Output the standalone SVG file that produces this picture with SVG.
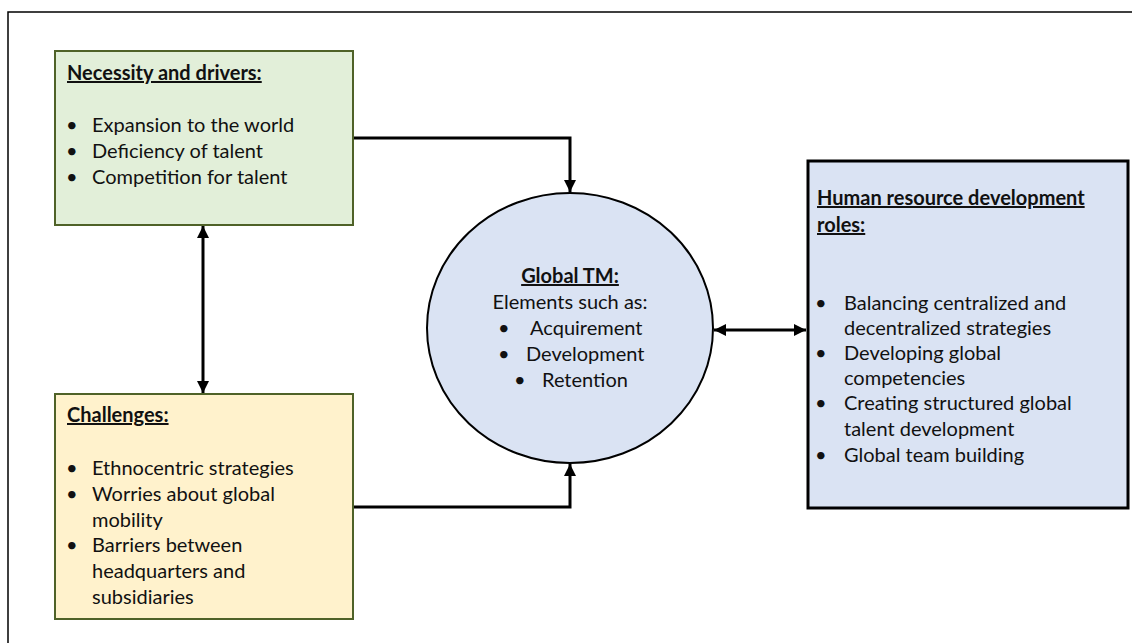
<svg xmlns="http://www.w3.org/2000/svg" width="1132" height="643" viewBox="0 0 1132 643">
  <defs>
    <style>
      text { font-family: Lato, "Open Sans", "Liberation Sans", sans-serif; font-size: 20px; fill: #111; }
      .title { font-weight: bold; text-decoration: underline; }
      .mid { text-anchor: middle; }
      .box-green { fill: #e2efd9; stroke: #4f6228; stroke-width: 2; }
      .box-yellow { fill: #fff2cc; stroke: #4f6228; stroke-width: 2; }
      .box-blue { fill: #dae3f3; stroke: #000; stroke-width: 3; }
      .hub { fill: #dae3f3; stroke: #000; stroke-width: 2; }
      .link { fill: none; stroke: #000; stroke-width: 3; }
    </style>
    <marker id="head" viewBox="0 0 10 10" refX="10" refY="5" markerWidth="4" markerHeight="4" orient="auto-start-reverse" markerUnits="strokeWidth">
      <path d="M0,0 L10,5 L0,10 Z" fill="#000"/>
    </marker>
  </defs>

  <rect width="1132" height="643" fill="#fff"/>
  <!-- page frame -->
  <path d="M8,643 V12 H1132" fill="none" stroke="#000" stroke-width="1.5"/>

  <!-- connectors -->
  <g id="connectors">
    <path class="link" d="M353,138 H570 V192" marker-end="url(#head)"/>
    <path class="link" d="M353,507 H570 V464" marker-end="url(#head)"/>
    <path class="link" d="M203,226 V393" marker-start="url(#head)" marker-end="url(#head)"/>
    <path class="link" d="M714,330 H806" marker-start="url(#head)" marker-end="url(#head)"/>
  </g>

  <g id="drivers">
    <rect class="box-green" x="55" y="51" width="298" height="174"/>
    <text class="title" x="67" y="80">Necessity and drivers:</text>
    <text x="66" y="132">•</text><text x="92" y="132">Expansion to the world</text>
    <text x="66" y="158">•</text><text x="92" y="158">Deficiency of talent</text>
    <text x="66" y="184">•</text><text x="92" y="184">Competition for talent</text>
  </g>

  <g id="challenges">
    <rect class="box-yellow" x="55" y="394" width="298" height="225"/>
    <text class="title" x="67" y="422">Challenges:</text>
    <text x="66" y="475">•</text><text x="92" y="475">Ethnocentric strategies</text>
    <text x="66" y="501">•</text><text x="92" y="501">Worries about global</text>
    <text x="92" y="527">mobility</text>
    <text x="66" y="552">•</text><text x="92" y="552">Barriers between</text>
    <text x="92" y="578">headquarters and</text>
    <text x="92" y="604">subsidiaries</text>
  </g>

  <g id="global-tm">
    <ellipse class="hub" cx="570" cy="328" rx="143" ry="135"/>
    <text class="title mid" x="570" y="283">Global TM:</text>
    <text class="mid" x="570" y="309">Elements such as:</text>
    <text x="498" y="335">•</text><text x="530" y="335">Acquirement</text>
    <text x="498" y="361">•</text><text x="526" y="361">Development</text>
    <text x="514" y="387">•</text><text x="542" y="387">Retention</text>
  </g>

  <g id="hrd-roles">
    <rect class="box-blue" x="808" y="161" width="320" height="347"/>
    <text class="title" x="817" y="205">Human resource development</text>
    <text class="title" x="817" y="232">roles:</text>
    <text x="815" y="310">•</text><text x="844" y="310">Balancing centralized and</text>
    <text x="844" y="335">decentralized strategies</text>
    <text x="815" y="360">•</text><text x="844" y="360">Developing global</text>
    <text x="844" y="385">competencies</text>
    <text x="815" y="410">•</text><text x="844" y="410">Creating structured global</text>
    <text x="844" y="436">talent development</text>
    <text x="815" y="462">•</text><text x="844" y="462">Global team building</text>
  </g>
</svg>
